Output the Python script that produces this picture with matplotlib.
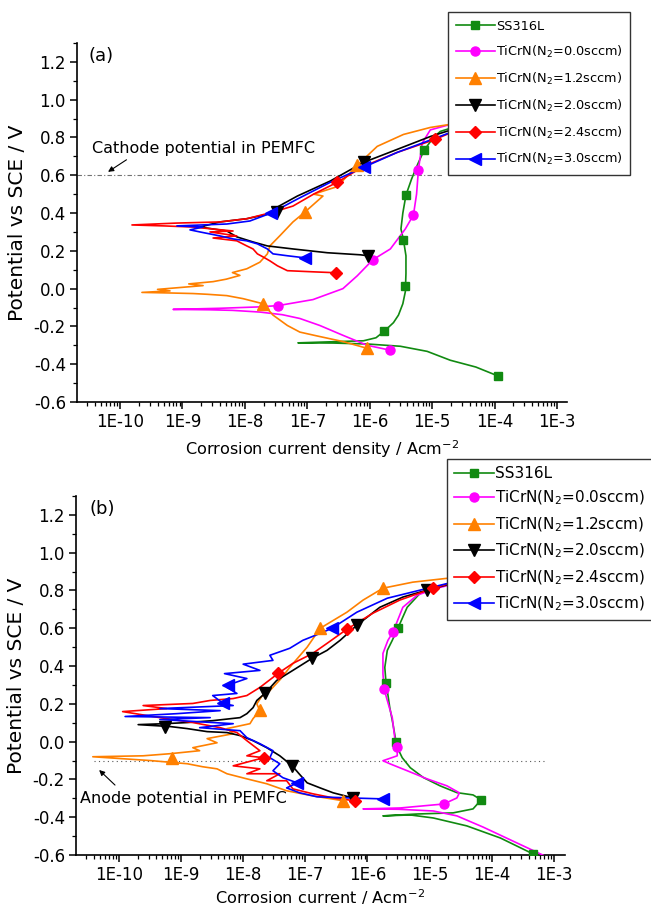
import matplotlib
matplotlib.use("Agg")
import matplotlib.pyplot as plt
import numpy as np
from matplotlib.ticker import FixedLocator, MultipleLocator, LogLocator, NullFormatter

plt.rcParams['font.family'] = ['DejaVu Sans']
plt.rcParams['mathtext.default'] = 'regular'

# ---- data: log10(current density) and potential (V vs SCE) ----
labels = ['SS316L', 'TiCrN(N$_2$=0.0sccm)', 'TiCrN(N$_2$=1.2sccm)',
          'TiCrN(N$_2$=2.0sccm)', 'TiCrN(N$_2$=2.4sccm)', 'TiCrN(N$_2$=3.0sccm)']
colors = ['#118a11', '#ff00ff', '#ff8000', 'black', '#ff0000', '#0000ff']
markers = ['s', 'o', '^', 'v', 'D', '<']
msizes = [6, 6.5, 8, 8, 6.5, 8]

# panel (a)
a_ss_lx = [-3.94, -4.3, -4.71, -5.08, -5.51, -6.04, -6.59, -7.15, -6.59, -6.1, -5.9, -5.77, -5.62, -5.54, -5.47, -5.43,
           -5.42, -5.42, -5.46, -5.5, -5.47, -5.42, -5.33, -5.23, -5.13, -4.98, -4.87, -4.6]
a_ss_E = [-0.463, -0.415, -0.379, -0.332, -0.305, -0.293, -0.288, -0.287, -0.281, -0.276, -0.26, -0.226, -0.18, -0.14,
          -0.08, -0.016, 0.08, 0.174, 0.258, 0.316, 0.4, 0.495, 0.58, 0.66, 0.732, 0.80, 0.832, 0.86]
a_ss_mlx = [-3.94, -5.77, -5.43, -5.46, -5.42, -5.13]
a_ss_mE = [-0.463, -0.226, 0.016, 0.258, 0.495, 0.732]

a_mg_lx = [-5.67, -6.04, -6.43, -6.8, -7.12, -7.4, -7.76, -8.2, -8.56, -9.15, -8.4, -7.8, -7.47, -6.91, -6.43, -6.2,
           -5.95, -5.67, -5.43, -5.30, -5.25, -5.22, -5.16, -5.03, -4.7]
a_mg_E = [-0.326, -0.30, -0.247, -0.195, -0.158, -0.138, -0.124, -0.115, -0.112, -0.11, -0.104, -0.097, -0.09, -0.058,
          0.0, 0.068, 0.153, 0.21, 0.316, 0.39, 0.5, 0.63, 0.77, 0.84, 0.87]
a_mg_mlx = [-5.67, -7.47, -5.95, -5.30, -5.22]
a_mg_mE = [-0.326, -0.09, 0.153, 0.39, 0.63]

a_or_lx = [-6.04, -6.43, -6.85, -7.12, -7.32, -7.55, -7.71, -8.03, -8.29, -8.6, -8.83, -9.2, -9.65, -9.2, -9.4, -8.67,
           -8.9, -8.51, -8.3, -8.08, -8.2, -7.97, -7.76, -7.64, -7.6, -7.44, -7.23, -7.04, -6.75, -6.9, -6.52, -6.2,
           -5.88, -5.46, -5.03, -4.6]
a_or_E = [-0.316, -0.28, -0.25, -0.23, -0.195, -0.14, -0.08, -0.053, -0.037, -0.03, -0.026, -0.023, -0.02, -0.012,
          -0.004, 0.016, 0.025, 0.037, 0.05, 0.07, 0.085, 0.105, 0.14, 0.184, 0.226, 0.28, 0.353, 0.405, 0.49, 0.5,
          0.54, 0.653, 0.753, 0.816, 0.853, 0.875]
a_or_mlx = [-6.04, -7.71, -7.04, -6.2]
a_or_mE = [-0.316, -0.08, 0.405, 0.653]

a_bk_lx = [-6.03, -6.15, -6.68, -7.23, -7.64, -7.87, -8.13, -8.29, -8.72, -8.4, -7.97, -7.48, -7.48, -7.16, -6.63,
           -6.1, -5.56, -5.03, -4.6]
a_bk_E = [0.174, 0.179, 0.19, 0.21, 0.226, 0.247, 0.274, 0.305, 0.326, 0.353, 0.37, 0.405, 0.432, 0.49, 0.57, 0.668,
          0.737, 0.805, 0.85]
a_bk_mlx = [-6.03, -7.48, -6.1]
a_bk_mE = [0.174, 0.405, 0.668]

a_rd_lx = [-6.54, -6.91, -7.32, -7.48, -7.6, -7.71, -7.8, -7.87, -7.97, -8.13, -8.51, -8.13, -8.56, -8.19, -8.83, -9.3,
           -9.81, -9.09, -8.4, -7.97, -7.55, -7.23, -6.9, -6.52, -6.1, -5.56, -4.95, -4.6]
a_rd_E = [0.084, 0.089, 0.095, 0.121, 0.147, 0.168, 0.184, 0.21, 0.226, 0.253, 0.268, 0.279, 0.3, 0.305, 0.326, 0.332,
          0.337, 0.347, 0.353, 0.37, 0.405, 0.437, 0.5, 0.563, 0.647, 0.721, 0.79, 0.84]
a_rd_mlx = [-6.54, -6.52, -4.95]
a_rd_mE = [0.084, 0.563, 0.79]

a_bl_lx = [-7.04, -7.32, -7.55, -7.64, -7.8, -7.97, -8.19, -8.4, -8.72, -8.88, -8.67, -9.09, -8.29, -7.92, -7.58,
           -7.16, -6.63, -6.1, -5.56, -4.92, -4.6]
a_bl_E = [0.163, 0.174, 0.184, 0.21, 0.237, 0.253, 0.263, 0.279, 0.3, 0.311, 0.326, 0.332, 0.342, 0.358, 0.4, 0.474,
          0.563, 0.642, 0.721, 0.8, 0.84]
a_bl_mlx = [-7.04, -7.58, -6.1]
a_bl_mE = [0.163, 0.4, 0.642]

# panel (b)
b_ss_lx = [-3.33, -3.86, -4.4, -4.94, -5.31, -5.75, -5.2, -4.62, -4.3, -4.17, -4.3, -4.56, -4.83, -5.1, -5.31, -5.44,
           -5.51, -5.54, -5.59, -5.64, -5.68, -5.70, -5.72, -5.68, -5.6, -5.51, -5.36, -5.15, -4.88, -4.6]
b_ss_E = [-0.595, -0.51, -0.446, -0.404, -0.388, -0.393, -0.383, -0.377, -0.356, -0.308, -0.282, -0.27, -0.234, -0.19,
          -0.138, -0.085, -0.037, 0.0, 0.095, 0.18, 0.27, 0.308, 0.393, 0.483, 0.536, 0.6, 0.711, 0.786, 0.818, 0.845]
b_ss_mlx = [-3.33, -4.17, -5.54, -5.70, -5.51]
b_ss_mE = [-0.595, -0.308, 0.0, 0.308, 0.6]

b_mg_lx = [-3.14, -3.66, -4.14, -4.56, -4.94, -5.5, -6.07, -5.47, -4.77, -4.56, -4.52, -4.72, -5.04, -5.36, -5.64,
           -5.75, -5.52, -5.52, -5.56, -5.6, -5.68, -5.73, -5.75, -5.75, -5.67, -5.59, -5.43, -5.2, -4.88, -4.6]
b_mg_E = [-0.606, -0.526, -0.452, -0.393, -0.367, -0.358, -0.356, -0.351, -0.33, -0.298, -0.271, -0.234, -0.197,
          -0.154, -0.117, -0.101, -0.075, -0.027, 0.021, 0.127, 0.218, 0.276, 0.36, 0.467, 0.536, 0.579, 0.711, 0.775,
          0.812, 0.835]
b_mg_mlx = [-4.77, -5.52, -5.73, -5.59]
b_mg_mE = [-0.33, -0.027, 0.276, 0.579]

b_or_lx = [-6.39, -6.88, -7.3, -7.62, -7.94, -8.26, -8.42, -8.65, -8.9, -9.5, -10.42, -9.61, -9.18, -8.7, -8.81, -8.42,
           -8.58, -8.16, -8.26, -7.89, -7.84, -7.73, -7.78, -7.7, -7.57, -7.4, -7.25, -6.97, -6.76, -6.33, -6.07, -5.75,
           -5.27, -4.7]
b_or_E = [-0.313, -0.287, -0.26, -0.223, -0.197, -0.17, -0.144, -0.133, -0.117, -0.1, -0.08, -0.075, -0.064, -0.048,
          -0.032, -0.006, 0.016, 0.042, 0.069, 0.095, 0.122, 0.164, 0.2, 0.24, 0.27, 0.33, 0.393, 0.5, 0.6, 0.685,
          0.749, 0.812, 0.844, 0.865]
b_or_mlx = [-6.39, -9.15, -7.73, -6.76, -5.75]
b_or_mE = [-0.313, -0.085, 0.17, 0.6, 0.812]

b_bk_lx = [-6.23, -6.55, -6.76, -6.97, -7.1, -7.21, -7.41, -7.62, -7.84, -8.05, -8.26, -8.58, -8.9, -9.18, -9.69,
           -9.26, -8.9, -8.49, -8.05, -7.94, -7.84, -7.78, -7.65, -7.46, -7.2, -6.89, -6.65, -6.44, -6.17, -5.8, -5.43,
           -5.04, -4.6]
b_bk_E = [-0.298, -0.271, -0.245, -0.218, -0.17, -0.128, -0.075, -0.032, 0.005, 0.032, 0.048, 0.053, 0.069, 0.08,
          0.09, 0.095, 0.101, 0.111, 0.127, 0.148, 0.18, 0.218, 0.255, 0.324, 0.377, 0.441, 0.483, 0.536, 0.616, 0.711,
          0.765, 0.802, 0.84]
b_bk_mlx = [-6.23, -7.21, -9.26, -7.65, -6.89, -6.17, -5.04]
b_bk_mE = [-0.298, -0.128, 0.075, 0.255, 0.441, 0.616, 0.802]

b_rd_lx = [-6.2, -6.55, -6.88, -7.2, -7.3, -7.62, -7.41, -7.94, -7.73, -8.16, -7.67, -7.94, -7.73, -7.94, -8.1, -8.37,
           -8.81, -9.34, -9.94, -9.23, -9.61, -8.81, -8.53, -8.16, -7.94, -7.73, -7.52, -7.44, -7.2, -6.88, -6.65,
           -6.33, -5.91, -5.48, -4.94, -4.6]
b_rd_E = [-0.313, -0.298, -0.276, -0.25, -0.207, -0.207, -0.17, -0.17, -0.144, -0.128, -0.085, -0.075, -0.048, 0.005,
          0.048, 0.074, 0.101, 0.127, 0.159, 0.175, 0.191, 0.202, 0.218, 0.228, 0.244, 0.287, 0.34, 0.361, 0.414,
          0.467, 0.52, 0.595, 0.68, 0.749, 0.812, 0.845]
b_rd_mlx = [-6.2, -7.67, -7.44, -6.33, -4.94]
b_rd_mE = [-0.313, -0.085, 0.361, 0.595, 0.812]

b_bl_lx = [-5.75, -6.28, -6.81, -7.09, -7.3, -7.13, -7.36, -7.52, -7.41, -7.57, -7.52, -7.73, -7.94, -8.05, -8.7,
           -8.16, -9.34, -8.53, -9.9, -9.07, -8.37, -9.34, -8.16, -8.32, -8.49, -8.1, -8.26, -8.24, -7.94, -8.3, -7.73,
           -8.0, -7.52, -7.57, -7.25, -7.04, -6.76, -6.57, -6.17, -5.68, -5.15, -4.7]
b_bl_E = [-0.303, -0.298, -0.292, -0.271, -0.245, -0.218, -0.191, -0.154, -0.117, -0.085, -0.048, -0.011, 0.021,
          0.058, 0.074, 0.095, 0.117, 0.127, 0.133, 0.148, 0.164, 0.175, 0.191, 0.202, 0.244, 0.255, 0.287, 0.3, 0.334,
          0.36, 0.377, 0.41, 0.43, 0.457, 0.494, 0.536, 0.573, 0.6, 0.685, 0.759, 0.802, 0.838]
b_bl_mlx = [-5.75, -7.13, -8.32, -8.24, -6.57]
b_bl_mE = [-0.303, -0.218, 0.202, 0.3, 0.6]

a_series = [(a_ss_lx, a_ss_E, a_ss_mlx, a_ss_mE), (a_mg_lx, a_mg_E, a_mg_mlx, a_mg_mE),
            (a_or_lx, a_or_E, a_or_mlx, a_or_mE), (a_bk_lx, a_bk_E, a_bk_mlx, a_bk_mE),
            (a_rd_lx, a_rd_E, a_rd_mlx, a_rd_mE), (a_bl_lx, a_bl_E, a_bl_mlx, a_bl_mE)]
b_series = [(b_ss_lx, b_ss_E, b_ss_mlx, b_ss_mE), (b_mg_lx, b_mg_E, b_mg_mlx, b_mg_mE),
            (b_or_lx, b_or_E, b_or_mlx, b_or_mE), (b_bk_lx, b_bk_E, b_bk_mlx, b_bk_mE),
            (b_rd_lx, b_rd_E, b_rd_mlx, b_rd_mE), (b_bl_lx, b_bl_E, b_bl_mlx, b_bl_mE)]

xticks = [1e-10, 1e-9, 1e-8, 1e-7, 1e-6, 1e-5, 1e-4, 1e-3]
xticklabels = ['1E-10', '1E-9', '1E-8', '1E-7', '1E-6', '1E-5', '1E-4', '1E-3']
yticks = [-0.6, -0.4, -0.2, 0.0, 0.2, 0.4, 0.6, 0.8, 1.0, 1.2]

fig = plt.figure(figsize=(6.51, 9.09), dpi=100)
W, H = 651.0, 909.0


def style_axes(ax, xlabel, xlim, xpad):
    ax.set_xscale('log')
    ax.set_xlim(*xlim)
    ax.set_ylim(-0.6, 1.3)
    for s in ['top', 'right']:
        ax.spines[s].set_visible(False)
    for s in ['left', 'bottom']:
        ax.spines[s].set_linewidth(1.2)
    ax.xaxis.set_major_locator(FixedLocator(xticks))
    ax.set_xticklabels(xticklabels)
    ax.xaxis.set_minor_locator(LogLocator(base=10, subs=np.arange(2, 10), numticks=30))
    ax.xaxis.set_minor_formatter(NullFormatter())
    ax.yaxis.set_major_locator(FixedLocator(yticks))
    ax.set_yticklabels(['%.1f' % v for v in yticks])
    ax.yaxis.set_minor_locator(MultipleLocator(0.1))
    ax.tick_params(which='major', direction='out', length=5, width=1.1, labelsize=12, pad=3)
    ax.tick_params(which='minor', direction='out', length=3, width=0.9)
    ax.set_xlabel(xlabel, fontsize=11.6, labelpad=xpad)
    ax.set_ylabel('Potential vs SCE / V', fontsize=14.5, labelpad=5)


def draw(ax, series):
    handles = []
    for (lx, E, mlx, mE), c, m, ms, lab in zip(series, colors, markers, msizes, labels):
        ax.plot(10 ** np.array(lx), E, color=c, lw=1.2, zorder=3)
        ax.plot(10 ** np.array(mlx), mE, ls='none', marker=m, ms=ms, color=c, zorder=4)
        h, = ax.plot([], [], color=c, lw=1.2, marker=m, ms=ms, label=lab)
        handles.append(h)
    return handles


# panel (a)
ax1 = fig.add_axes([77 / W, 1 - 402 / H, 490 / W, 359 / H])
style_axes(ax1, 'Corrosion current density / Acm$^{-2}$', (10 ** -10.69, 10 ** -2.84), 5)
h1 = draw(ax1, a_series)
ax1.plot([10 ** -10.69, 10 ** -4.82], [0.6, 0.6], color='0.45', lw=0.8, ls=(0, (4, 2, 1, 2)), zorder=2)
ax1.annotate('', xy=(10 ** -10.23, 0.61), xytext=(10 ** -9.86, 0.69),
             arrowprops=dict(arrowstyle='-|>', color='black', lw=0.8, mutation_scale=8))
ax1.text(10 ** -10.45, 0.74, 'Cathode potential in PEMFC', fontsize=11.5, va='center', ha='left')
ax1.text(10 ** -10.5, 1.23, '(a)', fontsize=13, va='center', ha='left')
leg1 = ax1.legend(handles=h1, loc='upper left', bbox_to_anchor=(448 / W, 1 - 12 / H),
                  bbox_transform=fig.transFigure, borderaxespad=0, fontsize=9.3, frameon=True, fancybox=False,
                  edgecolor='0.2', framealpha=1, handlelength=3.0, handletextpad=0.1,
                  labelspacing=0.84, borderpad=0.6, numpoints=1)
leg1.get_frame().set_linewidth(1.0)
leg1.set_zorder(10)

# panel (b)
ax2 = fig.add_axes([76 / W, 1 - 855 / H, 489 / W, 359 / H])
style_axes(ax2, 'Corrosion current / Acm$^{-2}$', (10 ** -10.69, 10 ** -2.82), 2)
h2 = draw(ax2, b_series)
ax2.plot([10 ** -10.4, 10 ** -3.11], [-0.1, -0.1], color='0.35', lw=0.8, ls=(0, (1, 3)), zorder=2)
ax2.annotate('', xy=(10 ** -10.35, -0.14), xytext=(10 ** -10.03, -0.24),
             arrowprops=dict(arrowstyle='-|>', color='black', lw=0.8, mutation_scale=8))
ax2.text(10 ** -10.62, -0.3, 'Anode potential in PEMFC', fontsize=11.5, va='center', ha='left')
ax2.text(10 ** -10.48, 1.23, '(b)', fontsize=13, va='center', ha='left')
leg2 = ax2.legend(handles=h2, loc='upper left', bbox_to_anchor=(447 / W, 1 - 459 / H),
                  bbox_transform=fig.transFigure, borderaxespad=0, fontsize=11, frameon=True, fancybox=False,
                  edgecolor='0.2', framealpha=1, handlelength=2.6, handletextpad=0.1,
                  labelspacing=0.53, borderpad=0.45, numpoints=1)
leg2.get_frame().set_linewidth(1.0)
leg2.set_zorder(10)

fig.savefig('out.png', dpi=100)
